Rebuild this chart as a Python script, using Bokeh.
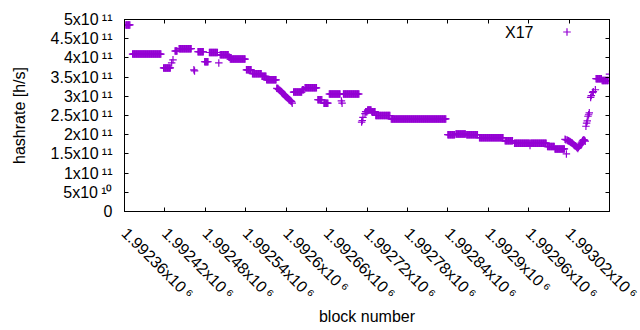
import numpy as np
from bokeh.plotting import figure
from bokeh.models import (Range1d, FixedTicker, LinearAxis, Label, Legend,
                          LegendItem, ColumnDataSource)
from bokeh.embed import file_html
from bokeh.resources import INLINE

# ---------------- data ----------------
FIRST_BLOCK = 1992360
LAST_BLOCK = 1993080
series_name = "X17"

# runs of constant hashrate (block offsets from FIRST_BLOCK, hashrate in 1e11 h/s)
run_first = [2, 12, 58, 75, 81, 109, 119, 126, 142, 155, 157, 181, 190, 204, 211,
             251, 264, 268, 287, 296, 304, 325, 358, 361, 367, 373, 396, 480, 492,
             508, 527, 565, 579, 603, 628, 639, 700, 709]
run_last = [8, 54, 68, 78, 99, 117, 124, 138, 154, 156, 179, 188, 203, 210, 225,
            263, 266, 285, 293, 302, 320, 348, 360, 366, 372, 394, 477, 490, 506,
            524, 562, 576, 601, 626, 638, 653, 708, 718]
run_rate = [4.86, 4.10, 3.74, 4.18, 4.24, 4.16, 3.90, 4.14, 4.08, 4.02, 3.97, 3.69,
            3.59, 3.52, 3.43, 3.11, 3.17, 3.22, 2.91, 2.82, 3.06, 3.06, 2.60, 2.64,
            2.60, 2.50, 2.41, 2.00, 2.02, 2.00, 1.92, 1.84, 1.78, 1.78, 1.69, 1.63,
            3.46, 3.41]

# individual blocks (offset from FIRST_BLOCK, hashrate in 1e11 h/s)
point_block = [70, 72, 103, 104, 140,
               226, 227, 228, 229, 230, 231, 232, 233, 234, 235, 236, 237, 238,
               239, 240, 241, 242, 243, 244, 245, 246, 247, 248, 249,
               322, 323, 352, 353, 354, 357, 602,
               654, 655, 656, 657, 658, 659, 660, 661, 662, 663, 664, 665, 666, 667,
               668, 669, 670, 671, 672, 673, 674, 675, 676, 677, 678, 679, 680, 681,
               682, 683, 684,
               685, 686, 687, 688, 689, 690, 692, 693, 695, 696, 699, 720]
point_rate = [3.87, 3.95, 3.69, 3.66, 3.87,
              3.21, 3.20, 3.20, 3.18, 3.16, 3.15, 3.14, 3.12, 3.10, 3.08, 3.06, 3.04,
              3.02, 3.00, 2.98, 2.97, 2.96, 2.94, 2.92, 2.91, 2.89, 2.88, 2.86, 2.82,
              2.88, 2.82, 2.33, 2.37, 2.45, 2.55, 1.72,
              1.88, 1.87, 1.50, 1.86, 1.85, 1.84, 1.83, 1.82, 1.81, 1.80, 1.79, 1.78,
              1.76, 1.74, 1.72, 1.71, 1.70, 1.68, 1.66, 1.64, 1.67, 1.70, 1.72, 1.75,
              1.78, 1.81, 1.84, 1.86, 1.87, 1.85, 1.83,
              2.22, 2.30, 2.36, 2.48, 2.52, 2.57, 2.97, 3.02, 3.10, 3.12, 3.17, 3.58]

x_tick_values = [1992360, 1992420, 1992480, 1992540, 1992600, 1992660, 1992720,
                 1992780, 1992840, 1992900, 1992960, 1993020, 1993080]
x_tick_labels = ["1.99236x10\u2009⁶", "1.99242x10\u2009⁶", "1.99248x10\u2009⁶",
                 "1.99254x10\u2009⁶", "1.9926x10\u2009⁶", "1.99266x10\u2009⁶",
                 "1.99272x10\u2009⁶", "1.99278x10\u2009⁶", "1.99284x10\u2009⁶",
                 "1.9929x10\u2009⁶", "1.99296x10\u2009⁶", "1.99302x10\u2009⁶",
                 "1.99308x10\u2009⁶"]
y_tick_values = [0, 5e10, 1e11, 1.5e11, 2e11, 2.5e11, 3e11, 3.5e11, 4e11, 4.5e11, 5e11]
y_tick_labels = ["0", "5x10\u2009¹⁰", "1x10\u2009¹¹", "1.5x10\u2009¹¹", "2x10\u2009¹¹",
                 "2.5x10\u2009¹¹", "3x10\u2009¹¹", "3.5x10\u2009¹¹", "4x10\u2009¹¹",
                 "4.5x10\u2009¹¹", "5x10\u2009¹¹"]

# ---------------- build ----------------
blocks = np.concatenate([np.arange(f, l + 1) for f, l in zip(run_first, run_last)]
                        + [np.array(point_block)]) + FIRST_BLOCK
rates = np.concatenate([np.full(l - f + 1, r) for f, l, r in zip(run_first, run_last, run_rate)]
                       + [np.array(point_rate)]) * 1e11
src = ColumnDataSource(dict(x=blocks, y=rates))

FONT = "Liberation Sans"
COLOR = "#9400D3"
X_LABEL_STANDOFF = 19

p = figure(width=640, height=330, output_backend="svg", toolbar_location=None,
           x_range=Range1d(FIRST_BLOCK, LAST_BLOCK), y_range=Range1d(0, 5e11),
           min_border_left=124, min_border_right=31, min_border_top=19,
           min_border_bottom=119)
p.xgrid.visible = False
p.ygrid.visible = False
p.outline_line_color = "black"
p.outline_line_width = 1
p.background_fill_color = "white"
p.border_fill_color = "white"

r = p.scatter("x", "y", source=src, marker="cross", size=7.5, line_color=COLOR,
              line_width=1.2)

def style_axis(ax, ticks, labels=None, show_labels=True):
    ax.ticker = FixedTicker(ticks=ticks)
    if labels is not None:
        ax.major_label_overrides = {t: l for t, l in zip(ticks, labels)}
    ax.major_tick_in = 4
    ax.major_tick_out = 0
    ax.minor_tick_line_color = None
    ax.axis_line_color = "black"
    ax.major_tick_line_color = "black"
    ax.major_label_text_font = FONT
    if show_labels:
        ax.major_label_text_color = "black"
        ax.major_label_text_font_size = "16px"
    else:
        ax.major_label_text_color = None
        ax.major_label_text_font_size = "1px"
        ax.major_label_standoff = 0
    ax.axis_label_text_font = FONT
    ax.axis_label_text_font_size = "16px"
    ax.axis_label_text_font_style = "normal"
    ax.axis_label_text_color = "black"

# bottom axis: the last tick sits on the right border; its label is drawn below
style_axis(p.xaxis[0], x_tick_values[:-1], x_tick_labels[:-1])
p.xaxis[0].axis_label = "block number"
p.xaxis[0].major_label_orientation = -0.7854
p.xaxis[0].major_label_text_baseline = "middle"
p.xaxis[0].major_label_text_align = "left"
p.xaxis[0].major_label_standoff = X_LABEL_STANDOFF
p.xaxis[0].axis_label_standoff = -4

style_axis(p.yaxis[0], y_tick_values, y_tick_labels)
p.yaxis[0].axis_label = "hashrate [h/s]"
p.yaxis[0].major_label_standoff = 12
p.yaxis[0].axis_label_standoff = 20

top = LinearAxis()
style_axis(top, x_tick_values, show_labels=False)
p.add_layout(top, "above")
right = LinearAxis()
style_axis(right, y_tick_values, show_labels=False)
p.add_layout(right, "right")

# last x tick label (runs off the right edge as in the original)
p.add_layout(Label(x=x_tick_values[-1], y=-X_LABEL_STANDOFF, x_units="data",
                   y_units="screen", text=x_tick_labels[-1], angle=-0.7854,
                   text_align="left", text_baseline="middle", text_font=FONT,
                   text_font_size="16px", text_color="black"))

# legend (gnuplot style: text then sample)
leg = Legend(items=[LegendItem(label=" ", renderers=[r])], location=(433, 170),
             glyph_width=19, glyph_height=19, label_width=0, label_height=19,
             label_standoff=0, padding=0, margin=0, spacing=0,
             border_line_color=None, background_fill_alpha=0,
             label_text_font_size="1px")
p.add_layout(leg)
p.add_layout(Label(x=409, y=179, x_units="screen", y_units="screen", text=series_name,
                   text_align="right", text_baseline="middle", text_font=FONT,
                   text_font_size="16px", text_color="black"))

open("out.html", "w").write(file_html(p, INLINE))
